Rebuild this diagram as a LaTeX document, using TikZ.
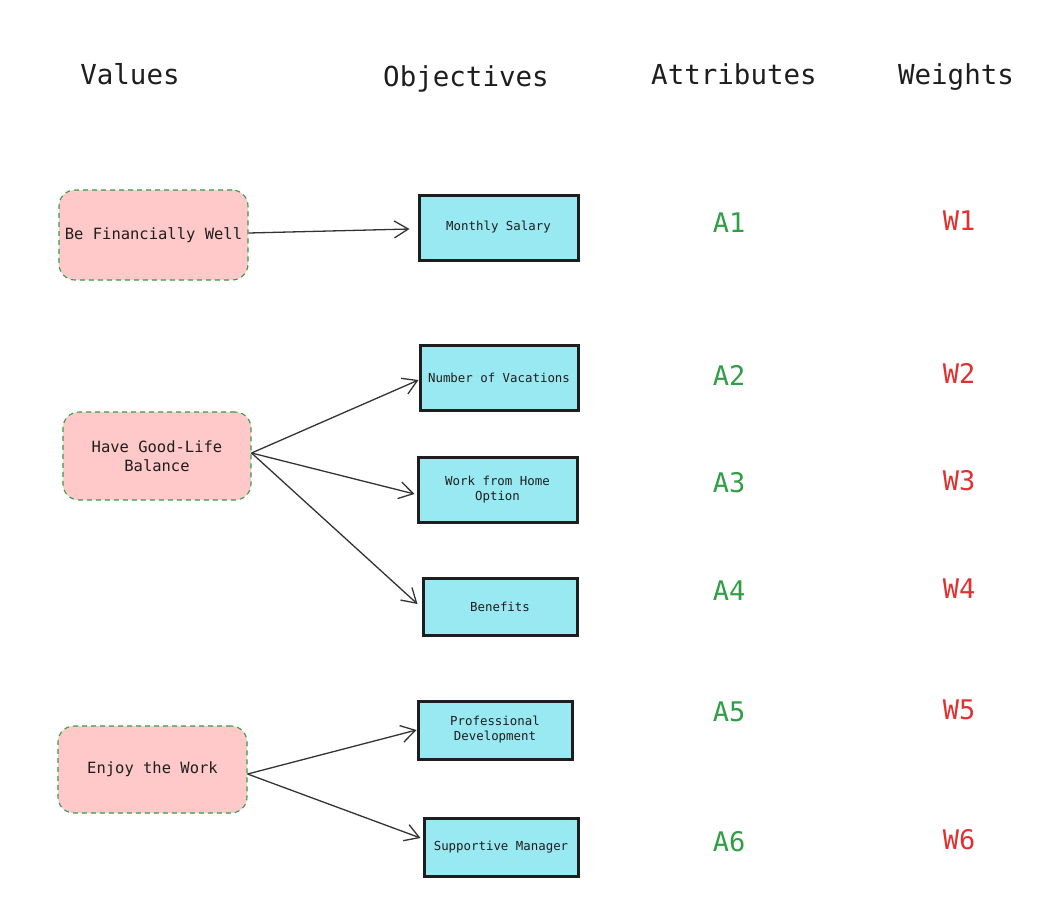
\documentclass[tikz,border=0pt]{standalone}
\usepackage{fontspec}
\setmainfont{DejaVu Sans Mono}
\usetikzlibrary{arrows.meta}
\definecolor{ink}{HTML}{1E1E1E}
\definecolor{pinkfill}{HTML}{FFC9C9}
\definecolor{greenline}{HTML}{2F9E44}
\definecolor{cyanfill}{HTML}{99E9F2}
\definecolor{redtext}{HTML}{E03131}
\definecolor{arrowink}{HTML}{333333}
\tikzset{
  header/.style={text=ink, font=\fontsize{27.5}{32}\selectfont, inner sep=0, anchor=base},
  valuebox/.style={draw=greenline, fill=pinkfill, dash pattern=on 5pt off 4pt, line width=1.1pt,
     rounded corners=16pt, text=ink, font=\fontsize{15.5}{19}\selectfont, align=center, inner sep=0},
  objbox/.style={draw=ink, fill=cyanfill, line width=3pt, text=ink,
     font=\fontsize{12.4}{15}\selectfont, align=center, inner sep=0},
  attr/.style={text=greenline, font=\fontsize{27}{32}\selectfont, inner sep=0},
  wgt/.style={text=redtext, font=\fontsize{27}{32}\selectfont, inner sep=0},
  link/.style={draw=arrowink, line width=1.3pt, -{Straight Barb[length=14pt,width=17pt,line width=1.3pt]}}
}
\begin{document}
\begin{tikzpicture}[x=1pt,y=-1pt]
\useasboundingbox[fill=white] (0,0) rectangle (1045,906);
% headers
\node[header] (hv) at (130,84) {Values};
\node[header] (ho) at (466,86) {Objectives};
\node[header] (ha) at (734,84) {Attributes};
\node[header] (hw) at (956,84) {Weights};
% values
\node[valuebox, minimum width=189pt, minimum height=90pt] (v1) at (153.5,235) {Be Financially Well};
\node[valuebox, minimum width=188pt, minimum height=88pt] (v2) at (157,456) {Have Good-Life\\ Balance};
\node[valuebox, minimum width=189pt, minimum height=87pt] (v3) at (152.5,769.5) {Enjoy the Work};
% objectives
\node[objbox, minimum width=159pt, minimum height=65pt] (o1) at (498.5,227.5) {Monthly Salary};
\node[objbox, minimum width=158pt, minimum height=65pt] (o2) at (499,377.5) {Number of Vacations};
\node[objbox, minimum width=159pt, minimum height=65pt] (o3) at (497.5,489.5) {Work from Home\\ Option};
\node[objbox, minimum width=154pt, minimum height=57pt] (o4) at (500,606.5) {Benefits};
\node[objbox, minimum width=154pt, minimum height=58pt] (o5) at (495,730) {Professional\\ Development};
\node[objbox, minimum width=154pt, minimum height=58pt] (o6) at (501,847) {Supportive Manager};
% attributes
\node[attr] (a1) at (729,223) {A1};
\node[attr] (a2) at (729,375) {A2};
\node[attr] (a3) at (729,483) {A3};
\node[attr] (a4) at (729,591) {A4};
\node[attr] (a5) at (729,712) {A5};
\node[attr] (a6) at (729,842) {A6};
% weights
\node[wgt] (w1) at (959,221) {W1};
\node[wgt] (w2) at (959,373) {W2};
\node[wgt] (w3) at (959,481) {W3};
\node[wgt] (w4) at (959,589) {W4};
\node[wgt] (w5) at (959,710) {W5};
\node[wgt] (w6) at (959,840) {W6};
% connectors
\draw[link] ([yshift=2pt]v1.east) -- ([xshift=-8pt,yshift=-1.5pt]o1.west);
\draw[link] ([yshift=3pt]v2.east) -- ([yshift=-2.5pt]o2.west);
\draw[link] ([yshift=3pt]v2.east) -- ([xshift=-2pt,yshift=-4.5pt]o3.west);
\draw[link] ([yshift=3pt]v2.east) -- ([xshift=-4pt,yshift=2.5pt]o4.west);
\draw[link] ([yshift=-4.5pt]v3.east) -- (o5.west);
\draw[link] ([yshift=-4.5pt]v3.east) -- ([xshift=-2pt,yshift=9pt]o6.west);
\end{tikzpicture}
\end{document}
